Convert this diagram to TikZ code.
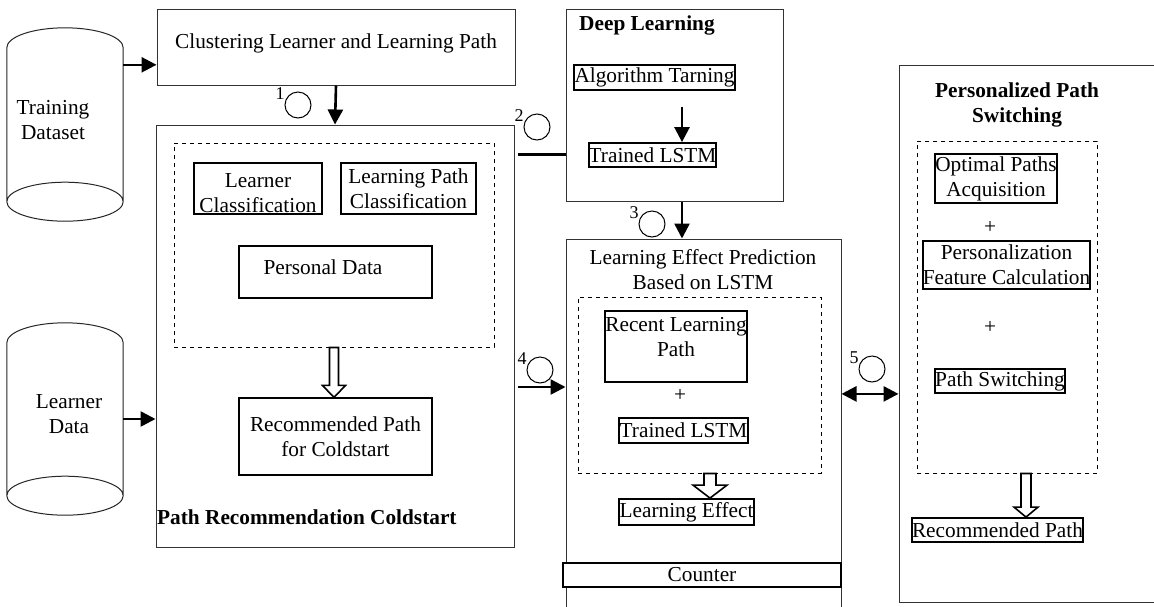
\documentclass[tikz,border=0pt]{standalone}
\usepackage{fontspec}
\setmainfont{Liberation Serif}
\usetikzlibrary{arrows.meta,calc}
\tikzset{
 base/.style={font=\fontsize{21.3}{25}\selectfont},
 outer/.style={draw=black!80, line width=1pt, inner sep=0},
 ibox/.style={draw, line width=1.2pt, align=center, inner sep=0},
 tbox/.style={draw, line width=1.8pt, align=center, inner sep=0},
 dbox/.style={draw, dash pattern=on 4pt off 4pt, line width=1pt, inner sep=0},
 arr/.style={line width=2.6pt, -{Triangle[length=15pt,width=15pt]}},
 darr/.style={line width=2.6pt, {Triangle[length=15pt,width=15pt]}-{Triangle[length=15pt,width=15pt]}},
 circ/.style={circle, draw, line width=1pt, minimum size=26pt, inner sep=0},
 num/.style={font=\fontsize{18}{18}\selectfont, inner sep=0.5pt},
 hollow/.style={draw, line width=1.6pt, fill=white},
 ttl/.style={font=\fontsize{21.3}{25}\selectfont\bfseries, inner sep=0, align=center},
 txt/.style={inner sep=0, align=center},
 cylbox/.style={inner sep=0, minimum width=116pt}
}
\newcommand\cylout[1]{%
 \draw[line width=1pt, black!85] let \p1=(#1.north west), \p2=(#1.south east), \n1={(\x2-\x1)/2} in
   (\x1,\y1-20pt) arc[start angle=180,end angle=0,x radius=\n1,y radius=20pt]
   -- (\x2,\y2+19.5pt) arc[start angle=0,end angle=-180,x radius=\n1,y radius=19.5pt] -- cycle
   (\x1,\y2+19.5pt) arc[start angle=180,end angle=0,x radius=\n1,y radius=19.5pt];}
\newcommand\hollowarr[5]{%
 \path[hollow] let \p1=#1, \p2=#2 in (\x1-#3pt,\y1) -- (\x1+#3pt,\y1) -- (\x1+#3pt,\y2+#5pt)
   -- (\x1+#4pt,\y2+#5pt) -- (\x1,\y2) -- (\x1-#4pt,\y2+#5pt) -- (\x1-#3pt,\y2+#5pt) -- cycle;}
\begin{document}
\begin{tikzpicture}[x=1pt,y=-1pt,base]
\clip (0,0) rectangle (1154,606);
\fill[white] (0,0) rectangle (1154,606);
% cylinders
\node[cylbox, minimum height=193pt] (td) at (65,124.5) {};
\node[cylbox, minimum height=192pt] (ld) at (65,419) {};
\cylout{td}
\cylout{ld}
\node[txt] at (53,120) {Training\\Dataset};
\node[txt] at (69,414) {Learner\\Data};
% clustering
\node[outer, minimum width=358pt, minimum height=76pt] (clus) at (336,47) {};
\node[txt] at (336,43) {Clustering Learner and Learning Path};
% path recommendation coldstart
\node[outer, minimum width=358pt, minimum height=422pt] (prc) at (335,336) {};
\node[dbox, minimum width=320pt, minimum height=204pt] (d1) at (334,245) {};
\node[ibox, minimum width=128pt, minimum height=51pt] (lc) at (258,188.5) {};
\node[txt] at (258,193.5) {Learner\\Classification};
\node[ibox, minimum width=135pt, minimum height=51pt] (lpc) at (408.5,188.5) {Learning Path\\Classification};
\node[ibox, minimum width=193pt, minimum height=52pt] (pd) at (335.5,272) {};
\node[txt] at (323,267) {Personal Data};
\node[ibox, minimum width=193pt, minimum height=77pt] (rpc) at (335.5,436.5) {Recommended Path\\for Coldstart};
\node[ttl, anchor=west] at (157,517) {Path Recommendation Coldstart};
% deep learning
\node[outer, minimum width=217pt, minimum height=192pt] (dl) at (674.5,105) {};
\node[ttl, anchor=west] at (579,25) {Deep Learning};
\node[tbox, minimum width=161pt, minimum height=25pt] (at) at (654.5,77.5) {Algorithm Tarning};
\node[tbox, minimum width=127pt, minimum height=24pt] (tl1) at (652.5,155) {Trained LSTM};
\coordinate (dlin) at ($(tl1.north)+(29.5,-35)$);
\draw[arr] (dlin) -- (dlin |- tl1.north);
% learning effect prediction
\node[outer, minimum width=275pt, minimum height=401pt] (lep) at (703.5,439.5) {};
\node[txt] at (703,270) {Learning Effect Prediction\\Based on LSTM};
\node[dbox, minimum width=243pt, minimum height=176pt] (d2) at (699.5,385) {};
\node[tbox, minimum width=142pt, minimum height=71pt] (rlp) at (676,346.5) {};
\node[txt] at (676,337.5) {Recent Learning\\Path};
\node[txt] at (680,395) {+};
\node[tbox, minimum width=129pt, minimum height=25pt] (tl2) at (683.5,430.5) {Trained LSTM};
\node[tbox, minimum width=135pt, minimum height=26pt] (le) at (686.5,512) {Learning Effect};
\node[tbox, line width=1.5pt, minimum width=278pt, minimum height=24pt, fill=white] (cnt) at (702,575) {Counter};
% personalized path switching
\node[outer, minimum width=281pt, minimum height=537pt] (pps) at (1039.5,333.5) {};
\node[ttl] at (1017,105) {Personalized Path\\Switching};
\node[dbox, minimum width=180pt, minimum height=332pt] (d3) at (1007,307) {};
\node[tbox, minimum width=122pt, minimum height=49pt] (opa) at (996,178.5) {Optimal Paths\\Acquisition};
\node[txt] at (990,227) {+};
\node[tbox, minimum width=167pt, minimum height=48pt] (pfc) at (1006.5,265) {Personalization\\Feature Calculation};
\node[txt] at (990,327) {+};
\node[tbox, minimum width=130pt, minimum height=24pt] (ps) at (1000,381) {Path Switching};
\node[tbox, minimum width=171pt, minimum height=24pt] (rp) at (997.5,530) {Recommended Path};
% connectors
\coordinate (a0) at ($(td.north east)+(0,37)$);
\draw[arr] (a0) -- (a0 -| clus.west);
\draw[arr] (ld.east) -- (ld.east -| prc.west);
\draw[arr] (clus.south) -- (prc.north);
\coordinate (a2) at ($(prc.north east)+(3,30)$);
\draw[line width=2.4pt] (a2) -- (a2 -| dl.west);
\coordinate (a3) at ($(dl.south)+(7.5,0)$);
\draw[arr] (a3) -- (a3 |- lep.north);
\coordinate (a4) at ($(prc.east)+(3,51)$);
\draw[arr] (a4) -- (a4 -| lep.west);
\draw[darr] (ps.south -| lep.east) -- (ps.south -| pps.west);
\hollowarr{(d1.south)}{(rpc.north)}{4.5}{11.5}{12}
\hollowarr{($(d2.south)+(10.5,0)$)}{(le.north)}{6}{17}{13}
\hollowarr{($(d3.south)+(19,0)$)}{(rp.north)}{5}{12}{10}
% numbered circles
\node[circ, label={[num]160:1}] (c1) at (298,105) {};
\node[circ, label={[num]160:2}] (c2) at (537,127) {};
\node[circ, label={[num]160:3}] (c3) at (652,224) {};
\node[circ, label={[num]160:4}] (c4) at (540,370) {};
\node[circ, label={[num]160:5}] (c5) at (872,369) {};
\end{tikzpicture}
\end{document}
